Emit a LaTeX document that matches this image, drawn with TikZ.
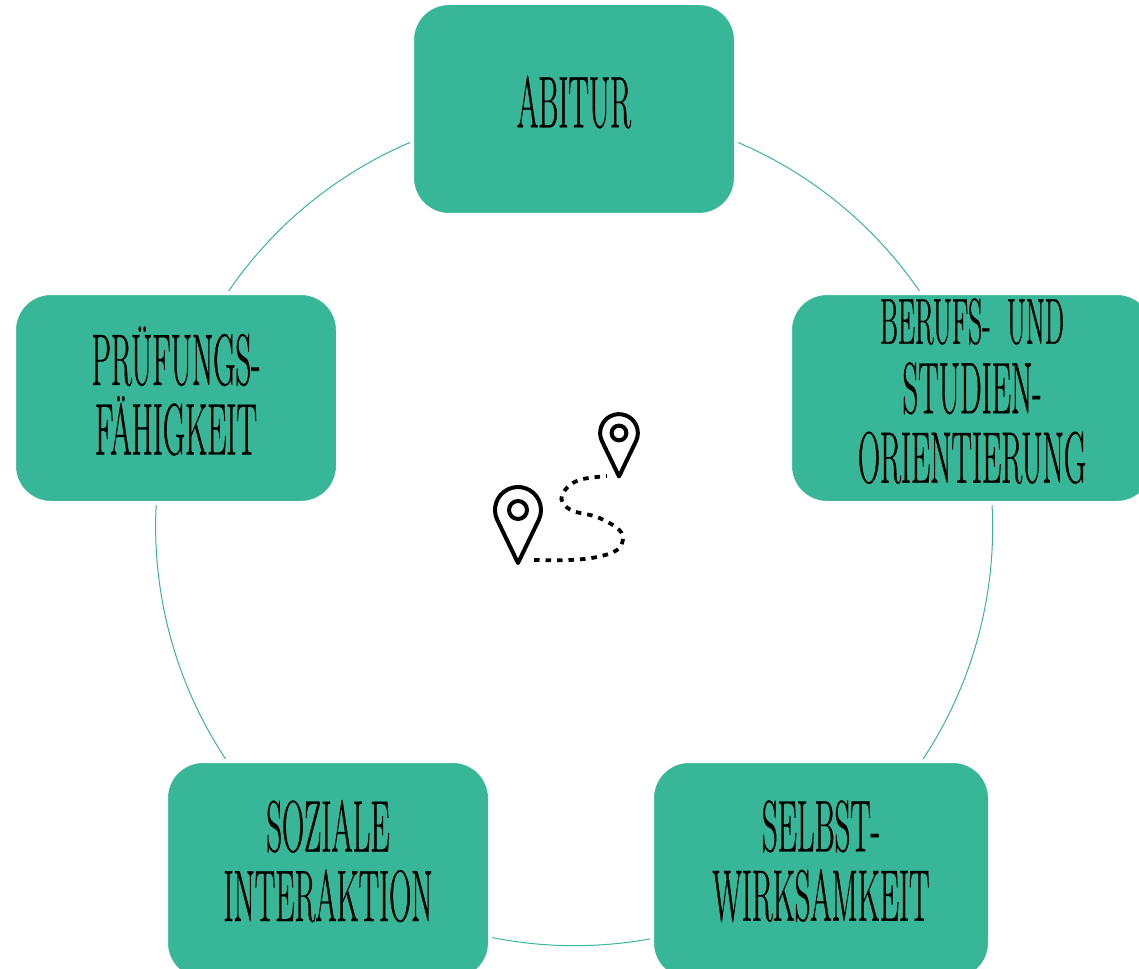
\documentclass[tikz,border=0pt]{standalone}
\usepackage{fontspec}
\setmainfont[FakeStretch=0.42, FakeBold=0.45]{Latin Modern Roman}
\usetikzlibrary{backgrounds}
\definecolor{stationgreen}{HTML}{38B698}

\tikzset{
	mappin/.pic = {
		\draw[pinline] (0,53) -- (154.3:23) arc[start angle=154.3, end angle=385.7, radius=23] -- cycle;
		\draw[pinline] (0,0) circle[radius=9];
	}
}

\begin{document}
\begin{tikzpicture}[x=1pt, y=-1pt]
\tikzstyle{stationbox} = [rectangle, rounded corners=37pt, fill=stationgreen, draw=white, line width=4pt, inner sep=0pt, minimum width=324pt, minimum height=210pt, align=center, text depth=15pt, font=\fontsize{73}{69.5}\selectfont]
\tikzstyle{lowbox} = [stationbox, minimum height=219pt, text depth=20pt]
\tikzstyle{ringline} = [draw=stationgreen, line width=1pt, bend left=36, looseness=0.94]
\tikzstyle{pinline} = [draw=black, line width=4pt, line join=round, fill=white]
\useasboundingbox (0,0) rectangle (1139,968);

\node[stationbox, minimum height=212pt] (abitur) at (574,109) {ABITUR};
\node[stationbox, minimum width=364pt] (berufs) at (972,398) {{\fontsize{65}{69.5}\selectfont BERUFS-\ \ UND}\\STUDIEN-\\ORIENTIERUNG};
\node[lowbox, minimum width=338pt] (selbst) at (821,870.5) {SELBST-\\WIRKSAMKEIT};
\node[lowbox] (soziale) at (328,870.5) {SOZIALE\\INTERAKTION};
\node[stationbox] (pruefung) at (176,398) {PRÜFUNGS-\\FÄHIGKEIT};

\begin{scope}[on background layer]
	\draw[ringline] (abitur.center) to (berufs.center);
	\draw[ringline] (berufs.center) to ([yshift=4.5pt]selbst.center);
	\draw[ringline] ([yshift=4.5pt]selbst.center) to ([yshift=4.5pt]soziale.center);
	\draw[ringline] ([yshift=4.5pt]soziale.center) to (pruefung.center);
	\draw[ringline] (pruefung.center) to (abitur.center);
\end{scope}

\draw[line width=3.8pt, dash pattern=on 5.5pt off 6pt] plot[smooth, tension=0.6] coordinates {(534,560) (570,560) (597,557) (617,550) (623,538) (617,528) (597,517) (573,511) (563,503) (562,495) (570,485) (583,479) (607,476)};
\pic at (518,510) {mappin};
\pic[scale=0.82] at (619,433) {mappin};
\end{tikzpicture}
\end{document}
